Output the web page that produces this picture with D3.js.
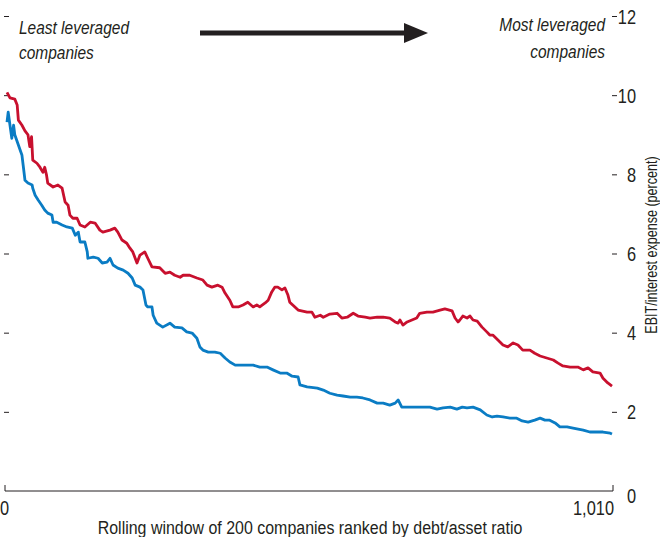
<!DOCTYPE html>
<html>
<head>
<meta charset="utf-8">
<script src="https://cdn.jsdelivr.net/npm/d3@7"></script>
<style>
  body { margin: 0; background: #fff; }
  svg text { font-family: "Liberation Sans Narrow", "Arial Narrow", "Liberation Sans", sans-serif; fill: #231f20; }
</style>
</head>
<body>
<div id="chart"></div>
<script>
// values: rank position in the rolling window -> EBIT/interest
var redRank = [0, 5, 13, 17, 19, 25, 30, 35, 38, 41, 43, 50, 55, 60, 63, 66, 68, 77, 85, 92, 97, 102, 105, 110, 117, 122, 130, 139, 147, 155, 160, 172, 180, 185, 192, 200, 205, 210, 217, 222, 230, 235, 242, 255,
  264, 272, 280, 289, 294, 305, 317, 327, 334, 342, 352, 359, 364, 372, 377, 386, 394, 402, 411, 417, 422, 431, 436, 442, 447, 452, 459, 464, 469, 472, 477, 486, 501,
  509, 514, 523, 528, 539, 551, 559, 568, 578, 586, 598, 606, 618, 628, 639, 648, 653, 656, 661, 668, 676, 684, 689, 701, 711, 723, 731, 743, 748, 753,
  756, 761, 768, 773, 778, 785, 793, 801, 806, 811, 820, 828, 836, 845, 853, 861, 873, 881, 890, 901, 912, 920, 928, 940, 953, 962, 970, 978, 990, 995, 1003, 1010];
var redValue = [10.07, 9.93, 9.90, 9.75, 9.37, 9.24, 9.10, 9.00, 8.70, 8.95, 8.36, 8.28, 8.18, 8.05, 8.18, 7.98, 7.78, 7.68, 7.73, 7.65, 7.30, 7.22, 6.97, 6.89, 6.89, 6.72, 6.67, 6.79, 6.77, 6.59, 6.54, 6.59, 6.64, 6.54, 6.34, 6.26, 6.14, 6.04, 5.76, 5.96, 6.04, 5.88, 5.66, 5.64,
  5.50, 5.53, 5.45, 5.40, 5.45, 5.45, 5.38, 5.33, 5.20, 5.15, 5.20, 5.15, 5.00, 4.82, 4.65, 4.65, 4.70, 4.77, 4.65, 4.70, 4.65, 4.75, 4.82, 5.03, 5.15, 5.15, 5.08, 5.13, 4.95, 4.77, 4.70, 4.57, 4.52,
  4.52, 4.39, 4.44, 4.39, 4.47, 4.49, 4.37, 4.39, 4.49, 4.42, 4.39, 4.37, 4.39, 4.39, 4.37, 4.27, 4.24, 4.32, 4.19, 4.27, 4.32, 4.37, 4.49, 4.52, 4.52, 4.57, 4.60, 4.55, 4.37, 4.27,
  4.32, 4.42, 4.37, 4.42, 4.32, 4.29, 4.14, 4.02, 3.94, 3.94, 3.81, 3.69, 3.64, 3.74, 3.69, 3.56, 3.56, 3.48, 3.41, 3.36, 3.31, 3.23, 3.16, 3.13, 3.13, 3.06, 3.11, 3.01, 2.98, 2.85, 2.73, 2.65];

var blueRank = [0, 2, 5, 8, 11, 13, 19, 25, 27, 30, 35, 42, 43, 47, 52, 58, 63, 68, 75, 77, 83, 92, 100, 109, 114, 119, 122, 130, 134, 135, 144, 152, 159, 167, 172, 177, 185, 194, 202, 209, 214, 222, 227, 232, 235, 242, 244, 250, 255,
  260, 272, 280, 292, 300, 309, 317, 322, 327, 336, 347, 356, 364, 372, 381, 392, 402, 411, 422, 434, 444, 456, 467, 476, 486, 489,
  501, 518, 528, 539, 551, 561, 573, 584, 594, 606, 618, 628, 639, 648, 653, 659, 669, 681, 694, 706, 718, 728, 740, 751,
  760, 768, 778, 790, 801, 810, 818, 828, 840, 851, 860, 870, 881, 890, 898, 906, 915, 923, 935, 945, 962, 973, 985, 995, 1007, 1010];
var blueValue = [9.32, 9.57, 9.24, 8.91, 9.24, 9.00, 8.74, 8.48, 8.23, 7.85, 7.78, 7.73, 7.65, 7.47, 7.35, 7.22, 7.10, 7.02, 6.97, 6.79, 6.79, 6.72, 6.67, 6.64, 6.46, 6.54, 6.29, 6.29, 6.04, 5.88, 5.91, 5.88, 5.76, 5.78, 5.88, 5.71, 5.63, 5.58, 5.50, 5.38, 5.20, 5.15, 5.08, 4.70, 4.65, 4.65, 4.44, 4.24, 4.19,
  4.14, 4.24, 4.14, 4.12, 4.02, 3.99, 3.86, 3.64, 3.56, 3.51, 3.51, 3.48, 3.36, 3.26, 3.18, 3.18, 3.18, 3.18, 3.13, 3.13, 3.06, 2.98, 2.98, 2.90, 2.88, 2.68,
  2.63, 2.60, 2.55, 2.47, 2.42, 2.40, 2.37, 2.37, 2.35, 2.30, 2.22, 2.22, 2.17, 2.22, 2.30, 2.12, 2.12, 2.12, 2.12, 2.12, 2.07, 2.10, 2.12, 2.07,
  2.12, 2.10, 2.12, 2.05, 1.92, 1.87, 1.89, 1.87, 1.84, 1.84, 1.77, 1.74, 1.79, 1.84, 1.79, 1.79, 1.72, 1.62, 1.62, 1.59, 1.54, 1.49, 1.49, 1.49, 1.46, 1.44];

var yTicks = [0, 2, 4, 6, 8, 10, 12];
var xTickLabels = ["0", "1,010"];

var width = 660, height = 537;
var ink = "#231f20";

var svg = d3.select("#chart")
    .append("svg")
    .attr("width", width)
    .attr("height", height);

var x = d3.scaleLinear().domain([0, 1010]).range([7, 612]);
var y = d3.scaleLinear().domain([0, 12]).range([491, 16]);

// no narrow font installed, so squeeze the regular one horizontally
function narrow(sel, tx, ty, size, sx) {
    return sel.attr("x", 0).attr("y", 0)
        .attr("font-size", size)
        .attr("transform", "translate(" + tx + "," + ty + ") scale(" + sx + ",1)");
}

// left ticks, no labels
var leftAxis = d3.axisLeft(y).tickValues(yTicks.slice(1)).tickSize(5).tickFormat("");
svg.append("g")
    .attr("transform", "translate(9,0)")
    .call(leftAxis)
    .call(function(g) { g.select(".domain").remove(); })
    .selectAll("line").attr("stroke", ink);

// right axis: dash then number, right-aligned
var rightAxis = d3.axisRight(y).tickValues(yTicks.slice(1)).tickSize(5).tickPadding(0)
    .tickFormat(function(d) { return d; });
var ra = svg.append("g")
    .attr("transform", "translate(612,0)")
    .call(rightAxis);
ra.select(".domain").remove();
ra.selectAll("line").attr("stroke", ink);
ra.selectAll("text")
    .attr("x", 0)
    .attr("dy", "0.35em")
    .attr("text-anchor", "end")
    .attr("font-size", 20)
    .attr("transform", "translate(24,0) scale(0.82,1)");

// bottom axis with upturned ends
svg.append("path")
    .attr("d", "M" + (x(0) - 2) + "," + (y(0) - 6) + "V" + y(0) + "H" + (x(1010) + 1) + "V" + (y(0) - 6))
    .attr("fill", "none")
    .attr("stroke", ink)
    .attr("stroke-width", 1);

narrow(svg.append("text"), x(1010) + 24, y(0) + 12, 20, 0.82)
    .attr("text-anchor", "end")
    .text("0");

svg.selectAll(".xlab")
    .data([0, 1010])
    .enter().append("text")
    .attr("class", "xlab")
    .each(function(d, i) {
        narrow(d3.select(this), d === 0 ? x(d) - 7 : x(d) + 2, 515, 20, 0.82)
            .attr("text-anchor", d === 0 ? "start" : "end")
            .text(xTickLabels[i]);
    });

narrow(svg.append("text"), 310, 534, 19, 0.84)
    .attr("text-anchor", "middle")
    .text("Rolling window of 200 companies ranked by debt/asset ratio");

svg.append("text")
    .attr("transform", "translate(657,245) rotate(-90) scale(0.74,1)")
    .attr("text-anchor", "middle")
    .attr("font-size", 17)
    .text("EBIT/interest expense (percent)");

// lines
var line = d3.line()
    .x(function(d) { return x(d[0]); })
    .y(function(d) { return y(d[1]); });

svg.append("path")
    .datum(d3.zip(redRank, redValue))
    .attr("d", line)
    .attr("fill", "none")
    .attr("stroke", "#c8102e")
    .attr("stroke-width", 2.8)
    .attr("stroke-linejoin", "round");

svg.append("path")
    .datum(d3.zip(blueRank, blueValue))
    .attr("d", line)
    .attr("fill", "none")
    .attr("stroke", "#0a7cc4")
    .attr("stroke-width", 2.8)
    .attr("stroke-linejoin", "round");

// annotations
narrow(svg.append("text"), 19, 34, 18, 0.86).attr("font-style", "italic").text("Least leveraged");
narrow(svg.append("text"), 19, 59, 18, 0.86).attr("font-style", "italic").text("companies");
narrow(svg.append("text"), 605, 31, 18, 0.86).attr("font-style", "italic").attr("text-anchor", "end").text("Most leveraged");
narrow(svg.append("text"), 605, 58, 18, 0.86).attr("font-style", "italic").attr("text-anchor", "end").text("companies");

svg.append("line")
    .attr("x1", 200).attr("y1", 33).attr("x2", 410).attr("y2", 33)
    .attr("stroke", ink)
    .attr("stroke-width", 5);
svg.append("path")
    .attr("d", "M404,23L428,33L404,43Z")
    .attr("fill", ink);
</script>
</body>
</html>
